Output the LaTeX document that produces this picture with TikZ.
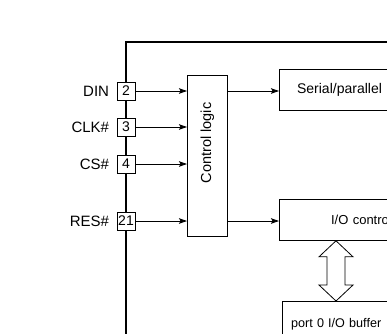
\documentclass[tikz,border=0pt]{standalone}
\usepackage{fontspec}
\setmainfont{Liberation Sans}
\usetikzlibrary{arrows.meta, positioning, calc}

\tikzset{
  pinbox/.style={draw, fill=white, line width=0.8pt, minimum size=18pt,
                 inner sep=0pt, font=\fontsize{14}{16}\selectfont},
  pinlbl/.style={label={[font=\fontsize{15}{18}\selectfont, label distance=4pt]left:#1}},
  blockbox/.style={draw, line width=0.8pt, anchor=north west, inner ysep=0pt,
                   align=left},
  sig/.style={line width=0.8pt, -{Stealth[length=8pt, width=5.5pt, inset=1.5pt]}}
}

\begin{document}
\begin{tikzpicture}[x=1pt, y=1pt]
  \useasboundingbox (0,0) rectangle (387,-333);
  \clip (0,0) rectangle (387,-333);

  % chip outline
  \draw[line width=2pt] (126,-360) -- (126,-42) -- (420,-42);

  % pins
  \node[pinbox, pinlbl=DIN]  (p2)  at (126,-91)  {2};
  \node[pinbox, pinlbl=CLK\#] (p3)  at (126,-127) {3};
  \node[pinbox, pinlbl=CS\#]  (p4)  at (126,-164) {4};
  \node[pinbox, pinlbl=RES\#] (p21) at (126,-221) {21};

  % blocks
  \node[draw, line width=0.8pt, anchor=north west, minimum width=40pt,
        minimum height=161pt, inner sep=0pt] (ctrl) at (187,-75) {};
  \node[rotate=90, font=\fontsize{14.5}{17}\selectfont] (ctrltxt)
        at ($(ctrl.center)+(0,13)$) {Control logic};
  \node[blockbox, minimum height=41pt, inner xsep=17.7pt, text width=160pt,
        font=\fontsize{14}{17}\selectfont] (serial) at (279,-69)
        {Serial/parallel converter};
  \node[blockbox, minimum height=41pt, inner xsep=51.7pt, text width=70pt,
        font=\fontsize{13}{16}\selectfont] (ioctl) at (279,-199) {I/O control};
  \node[blockbox, minimum height=45pt, inner xsep=8.7pt, text width=120pt,
        font=\fontsize{12.6}{15}\selectfont] (buf) at (282,-301)
        {port 0 I/O buffer\\[14pt]};

  % signals
  \foreach \p in {p2, p3, p4, p21}
    \draw[sig] (\p.east) -- (\p -| ctrl.west);
  \draw[sig] (ctrl.east |- p2) -- (ctrl.east |- p2 -| serial.west);
  \draw[sig] (ctrl.east |- p21) -- (ctrl.east |- p21 -| ioctl.west);

  % bus between I/O control and buffer
  \coordinate (bt) at ($(ioctl.south west)+(57,0)$);
  \coordinate (bb) at (bt |- buf.north);
  \draw[line width=0.8pt, fill=white]
    (bt) -- ++(17,-16) -- ++(-8,0) -- ($(bb)+(9,16)$) -- ++(8,0) -- (bb)
    -- ++(-17,16) -- ++(8,0) -- ($(bt)+(-9,-16)$) -- ++(-8,0) -- cycle;
\end{tikzpicture}
\end{document}
